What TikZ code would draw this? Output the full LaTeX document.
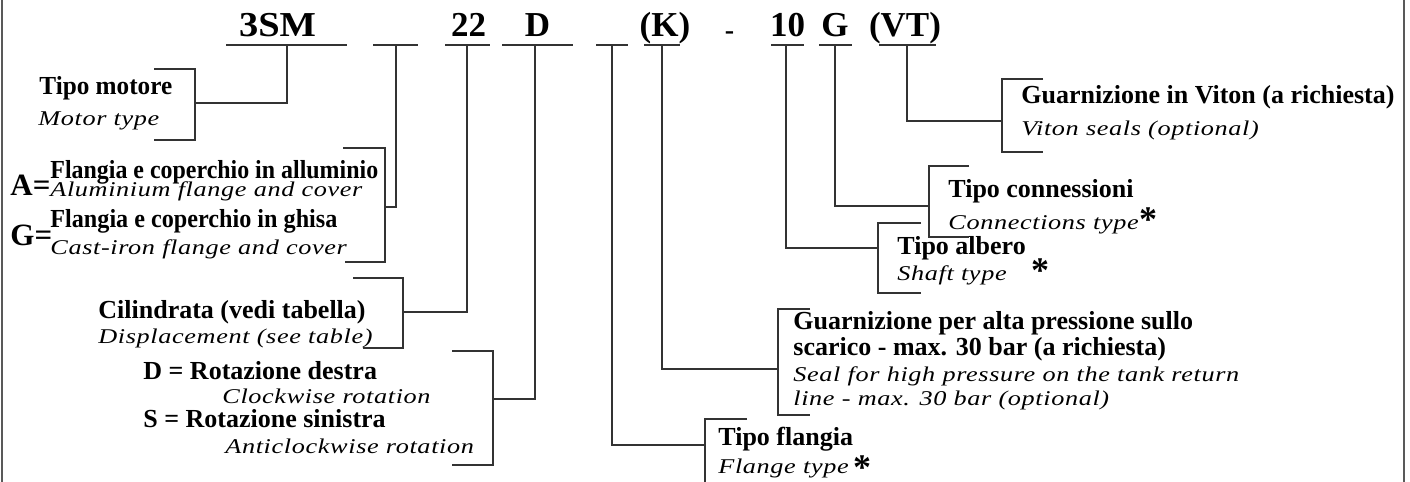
\documentclass[tikz,border=0pt]{standalone}
\usepackage{fontspec}
\setmainfont{Liberation Serif}
\newfontfamily\wideserif[FakeStretch=1.25, LetterSpace=3]{Liberation Serif}
\tikzset{
  x=0.5pt, y=-0.5pt,
  lbl/.style={inner sep=0pt, anchor=base west},
  bl/.style={lbl, font=\fontsize{13pt}{15pt}\selectfont\bfseries},
  il/.style={lbl, font=\fontsize{10.5pt}{12pt}\wideserif\itshape},
  eqlbl/.style={lbl, font=\fontsize{15.5pt}{17pt}\selectfont\bfseries},
  code/.style={inner sep=0pt, anchor=base, font=\fontsize{17.5pt}{20pt}\selectfont\bfseries},
  wire/.style={line width=0.75pt, draw=black!80},
  frameline/.style={line width=1pt, draw=black!65},
  star/.style={inner sep=0pt, anchor=base, font=\fontsize{18pt}{18pt}\selectfont\bfseries},
}
\begin{document}
\begin{tikzpicture}
\useasboundingbox (0,0) rectangle (1410,482);

% outer frame (left and right rules)
\coordinate (fl0) at (2,0);    \coordinate (fl1) at (2,482);
\coordinate (fr0) at (1404,0); \coordinate (fr1) at (1404,482);
\draw[frameline] (fl0) -- (fl1);
\draw[frameline] (fr0) -- (fr1);

% ---- ordering code ----
\node[code] (c3sm) at (277.5,36) {\scalebox{1.1}[1]{3SM}};
\node[code] (c22)  at (468.5,36) {22};
\node[code] (cD)   at (537.5,36) {D};
\node[code] (cK)   at (665,36)   {(K)};
\node[code, font=\fontsize{14pt}{14pt}\selectfont\bfseries] (cdash) at (729.5,39.5) {-};
\node[code] (c10)  at (787.5,36) {10};
\node[code] (cG)   at (835,36)   {G};
\node[code] (cVT)  at (905,36)   {(VT)};

% underlines of the code fields
\draw[wire] (226,45) -- (347,45);
\draw[wire] (373,45) -- (418,45);
\draw[wire] (445,45) -- (490,45);
\draw[wire] (502,45) -- (573,45);
\draw[wire] (596,45) -- (628,45);
\draw[wire] (644,45) -- (680,45);
\draw[wire] (771,45) -- (804,45);
\draw[wire] (819,45) -- (852,45);
\draw[wire] (879,45) -- (936,45);
\coordinate (u1) at (287,45);
\coordinate (u2) at (396,45);
\coordinate (u3) at (467,45);
\coordinate (u4) at (535,45);
\coordinate (u5) at (612,45);
\coordinate (u6) at (662,45);
\coordinate (u7) at (786,45);
\coordinate (u8) at (835,45);
\coordinate (u9) at (907,45);

% ---- brackets ----
\draw[wire] (154,69) -- (195,69) -- (195,140) -- (154,140);
\draw[wire] (343,148) -- (385,148) -- (385,262) -- (345,262);
\draw[wire] (353,278) -- (403,278) -- (403,348) -- (363,348);
\draw[wire] (452,351) -- (493,351) -- (493,465) -- (452,465);
\draw[wire] (747,419) -- (705,419) -- (705,482);
\draw[wire] (810,309) -- (778,309) -- (778,415) -- (810,415);
\draw[wire] (921,223) -- (878,223) -- (878,293) -- (921,293);
\draw[wire] (969,166) -- (929,166) -- (929,237) -- (969,237);
\draw[wire] (1043,79) -- (1002,79) -- (1002,152) -- (1043,152);

\coordinate (j1) at (195,103);
\coordinate (j2) at (385,207);
\coordinate (j3) at (403,312);
\coordinate (j4) at (493,399);
\coordinate (j5) at (705,445);
\coordinate (j6) at (778,369);
\coordinate (j7) at (878,248);
\coordinate (j8) at (929,206);
\coordinate (j9) at (1002,121);

% ---- connectors ----
\draw[wire] (u1) |- (j1);
\draw[wire] (u2) |- (j2);
\draw[wire] (u3) |- (j3);
\draw[wire] (u4) |- (j4);
\draw[wire] (u5) |- (j5);
\draw[wire] (u6) |- (j6);
\draw[wire] (u7) |- (j7);
\draw[wire] (u8) |- (j8);
\draw[wire] (u9) |- (j9);

% ---- descriptions ----
\node[bl] (tm1) at (39,94)  {\scalebox{0.97}[1]{Tipo motore}};
\node[il] (tm2) at (38,125) {Motor type};

\node[eqlbl] (eqA) at (10,195) {A=};
\node[eqlbl] (eqG) at (10,245) {G=};
\node[bl] (fa1) at (50,178) {\scalebox{0.92}[1]{Flangia e coperchio in alluminio}};
\node[il] (fa2) at (50,196) {Aluminium flange and cover};
\node[bl] (fg1) at (50,227) {\scalebox{0.93}[1]{Flangia e coperchio in ghisa}};
\node[il] (fg2) at (50,254) {Cast-iron flange and cover};

\node[bl] (ci1) at (98,318) {Cilindrata (vedi tabella)};
\node[il] (ci2) at (98,343) {Displacement (see table)};

\node[bl] (rd1) at (143,379) {D = Rotazione destra};
\node[il] (rd2) at (222,403) {Clockwise rotation};
\node[bl] (rs1) at (143,427) {S = Rotazione sinistra};
\node[il] (rs2) at (225,453) {Anticlockwise rotation};

\node[bl] (fl1) at (718,445) {Tipo flangia};
\node[il] (fl2) at (718,473) {Flange type};
\node[star] (st1) at (862,479) {*};

\node[bl] (hp1) at (793,329) {Guarnizione per alta pressione sullo};
\node[bl] (hp2) at (793,355) {scarico - max. 30 bar (a richiesta)};
\node[il] (hp3) at (793,381) {Seal for high pressure on the tank return};
\node[il] (hp4) at (793,405) {line - max. 30 bar (optional)};

\node[bl] (ta1) at (897,254) {Tipo albero};
\node[il] (ta2) at (897,280) {Shaft type};
\node[star] (st2) at (1040,282) {*};

\node[bl] (tc1) at (948,197) {Tipo connessioni};
\node[il] (tc2) at (948,229) {Connections type};
\node[star] (st3) at (1148,231) {*};

\node[bl] (vi1) at (1021,104) {Guarnizione in Viton (a richiesta)};
\node[il] (vi2) at (1021,135) {Viton seals (optional)};
\end{tikzpicture}
\end{document}
